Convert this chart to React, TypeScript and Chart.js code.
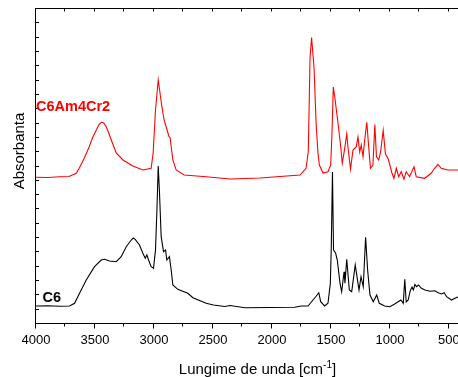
import React, { useEffect, useRef } from "react";
import { Chart, registerables } from "chart.js";

Chart.register(...registerables);

// ---- Data ----
const xTickValues = [4000, 3500, 3000, 2500, 2000, 1500, 1000, 500];
const xMinorStep = 250;

const redWavenumber = [
  4000, 3900, 3800, 3720, 3659, 3633, 3590, 3549, 3520, 3489, 3465, 3447, 3425, 3405, 3385, 3362, 3320, 3263, 3179, 3094, 3024, 3007,
  2987, 2964, 2933, 2914, 2874, 2863, 2840, 2812, 2744, 2558, 2355, 2101, 1762, 1711, 1692, 1677, 1664,
  1643, 1625, 1610, 1598, 1567, 1525, 1502, 1491, 1480, 1468, 1440, 1417, 1404, 1383, 1366, 1353, 1334,
  1313, 1285, 1271, 1256, 1243, 1228, 1214, 1196, 1180, 1165, 1144, 1128, 1114, 1095, 1079, 1057, 1038,
  1014, 983, 966, 946, 926, 904, 881, 862, 833, 796, 777, 706, 650, 621, 593, 565, 509, 424, 400,
];
const redAbsorbance = [
  145.7, 145.5, 146.2, 146.5, 149.7, 155, 165, 176.3, 185.5, 193, 198.5, 200.7, 200, 196.3, 190.5, 183, 170, 163, 157, 153, 154.7, 170,
  213, 243, 216.3, 203, 187, 185, 163, 153, 148, 146.3, 144, 145, 148, 154.7, 171.3, 265, 285.5,
  255, 198, 170, 158, 150, 151.3, 158, 190, 236, 226.3, 200, 176.3, 159.7, 174.7, 189, 173, 154,
  173, 176.3, 186, 171, 178, 166.3, 183, 200.7, 176.3, 154.7, 158, 198.5, 166.3, 163, 171, 192.7, 169,
  164, 150, 144.7, 154.7, 146.3, 151.3, 143.7, 151.3, 146.3, 156.3, 146.3, 144.7, 149.7, 154.7, 158.7, 154.7, 153, 153, 153,
];

const blackWavenumber = [
  4000, 3900, 3800, 3715, 3673, 3631, 3574, 3504, 3447, 3419, 3377, 3320, 3278, 3235, 3193, 3175, 3159, 3123,
  3094, 3074, 3060, 3046, 3024, 3004, 2987, 2975, 2964, 2953, 2939, 2919, 2902, 2891, 2869, 2854, 2840,
  2798, 2713, 2670, 2558, 2496, 2400, 2355, 2230, 1807, 1751, 1694, 1652, 1624, 1603, 1587, 1553, 1525,
  1505, 1497, 1487, 1478, 1460, 1446, 1423, 1409, 1389, 1381, 1366, 1344, 1324, 1294, 1277, 1262, 1245,
  1226, 1206, 1189, 1169, 1141, 1112, 1090, 1045, 1000, 960, 930, 907, 887, 874, 862, 845, 828, 813,
  801, 788, 774, 758, 733, 703, 661, 619, 591, 562, 540, 520, 477, 449, 421, 400,
];
const blackAbsorbance = [
  17, 17.3, 16.8, 17, 19.7, 29.7, 43, 56.3, 63, 63.7, 62, 61.3, 66.3, 76.3, 83, 85, 83.7, 78,
  69.7, 64.7, 68, 63, 56.3, 54.7, 73, 113, 157, 129.7, 86.3, 71.3, 73, 63, 66.3, 53, 38,
  33.7, 29.7, 25.3, 19.7, 18, 16.5, 17.5, 15.3, 15.7, 17, 17, 23, 27, 30.3, 21.3, 17, 19.7,
  39.7, 76.3, 151, 73, 69.7, 63, 39.7, 31.3, 51.3, 39.7, 63.7, 33, 31.3, 58, 44.7, 33, 46.3,
  36.3, 85.7, 53, 28, 21.3, 28, 19.7, 17, 16.3, 19, 21.3, 23, 19.7, 43.7, 21, 23, 32, 36,
  33, 38.5, 36.3, 38, 34.7, 33, 31.7, 32.3, 30.3, 29, 30.3, 26.3, 23, 24.7, 26.3, 26,
];

const yMax = 315;
const yTickCount = 22;

const seriesNames = ["C6Am4Cr2", "C6"];
const seriesColors = ["#ff0000", "#000000"];
const xTitleMain = "Lungime de unda [cm";
const xTitleSup = "-1";
const xTitleEnd = "]";
const yTitle = "Absorbanta";

const FONT = "'Liberation Sans', Arial, Helvetica, sans-serif";

const decorPlugin = {
  id: "decor",
  afterDraw(chart: any) {
    const { ctx, chartArea: a, scales } = chart;
    const xs = scales.x;
    const ys = scales.y;
    ctx.save();
    ctx.strokeStyle = "#000";
    ctx.lineWidth = 1;
    ctx.beginPath();
    // frame: top, left, bottom
    ctx.moveTo(a.left - 1, a.top + 0.5);
    ctx.lineTo(a.right + 10, a.top + 0.5);
    ctx.moveTo(a.left - 0.5, a.top);
    ctx.lineTo(a.left - 0.5, a.bottom + 1);
    ctx.moveTo(a.left - 1, a.bottom + 0.5);
    ctx.lineTo(a.right + 10, a.bottom + 0.5);
    // x ticks (bottom outward, top inward)
    for (let v = xTickValues[0]; v >= xs.min; v -= xMinorStep) {
      const x = Math.round(xs.getPixelForValue(v)) - 0.5;
      const major = v % 500 === 0;
      ctx.moveTo(x, a.bottom);
      ctx.lineTo(x, a.bottom + (major ? 5.5 : 3.5));
      ctx.moveTo(x, a.top);
      ctx.lineTo(x, a.top + 3.5);
    }
    // y ticks (inward)
    for (let i = 0; i <= yTickCount; i++) {
      const y = Math.round(ys.getPixelForValue((i * yMax) / yTickCount)) + 0.5;
      ctx.moveTo(a.left, y);
      ctx.lineTo(a.left + 3, y);
    }
    ctx.stroke();

    // series labels
    ctx.font = `bold 14.5px ${FONT}`;
    ctx.textAlign = "left";
    ctx.textBaseline = "alphabetic";
    ctx.fillStyle = seriesColors[0];
    ctx.fillText(seriesNames[0], a.left, ys.getPixelForValue(212.3));
    ctx.fillStyle = seriesColors[1];
    ctx.fillText(seriesNames[1], xs.getPixelForValue(3945), ys.getPixelForValue(20.7));

    // y title
    ctx.fillStyle = "#000";
    ctx.font = `15px ${FONT}`;
    ctx.save();
    ctx.translate(24, 151);
    ctx.rotate(-Math.PI / 2);
    ctx.textAlign = "center";
    ctx.fillText(yTitle, 0, 0);
    ctx.restore();

    // x title with superscript
    ctx.font = `15px ${FONT}`;
    const w1 = ctx.measureText(xTitleMain).width;
    ctx.font = `10px ${FONT}`;
    const w2 = ctx.measureText(xTitleSup).width;
    ctx.font = `15px ${FONT}`;
    const w3 = ctx.measureText(xTitleEnd).width;
    const total = w1 + w2 + w3;
    const x0 = 257.5 - total / 2;
    const base = 373.5;
    ctx.textAlign = "left";
    ctx.fillText(xTitleMain, x0, base);
    ctx.font = `10px ${FONT}`;
    ctx.fillText(xTitleSup, x0 + w1, base - 6);
    ctx.font = `15px ${FONT}`;
    ctx.fillText(xTitleEnd, x0 + w1 + w2, base);
    ctx.restore();
  },
};

export default function App() {
  const ref = useRef<HTMLCanvasElement | null>(null);
  useEffect(() => {
    if (!ref.current) return;
    const red = redWavenumber.map((x, i) => ({ x, y: redAbsorbance[i] }));
    const black = blackWavenumber.map((x, i) => ({ x, y: blackAbsorbance[i] }));
    const chart = new Chart(ref.current, {
      type: "line",
      data: {
        datasets: [
          {
            label: seriesNames[1],
            data: black,
            borderColor: seriesColors[1],
            borderWidth: 1.1,
            pointRadius: 0,
            tension: 0,
            fill: false,
          },
          {
            label: seriesNames[0],
            data: red,
            borderColor: seriesColors[0],
            borderWidth: 1.1,
            pointRadius: 0,
            tension: 0,
            fill: false,
          },
        ],
      },
      options: {
        responsive: false,
        animation: false,
        devicePixelRatio: 1,
        layout: { padding: { left: 36, top: 8, right: 9, bottom: 0 } },
        plugins: { legend: { display: false }, tooltip: { enabled: false } },
        scales: {
          x: {
            type: "linear",
            reverse: true,
            min: 400,
            max: 4000,
            afterBuildTicks: (s: any) => {
              s.ticks = xTickValues.map((v) => ({ value: v }));
            },
            afterFit: (s: any) => {
              s.height = 54;
            },
            grid: { display: false, drawTicks: false },
            border: { display: false },
            ticks: {
              font: { family: FONT, size: 13 },
              color: "#000",
              padding: 10,
              maxRotation: 0,
              autoSkip: false,
              callback: (v: any) => String(v),
            },
          },
          y: { type: "linear", min: 0, max: yMax, display: false },
        },
      },
      plugins: [decorPlugin],
    });
    return () => chart.destroy();
  }, []);
  return (
    <div
      style={{
        position: "absolute",
        left: 0,
        top: 0,
        width: 458,
        height: 377,
        overflow: "hidden",
        background: "#fff",
      }}
    >
      <canvas ref={ref} width={470} height={377} style={{ display: "block" }} />
    </div>
  );
}
